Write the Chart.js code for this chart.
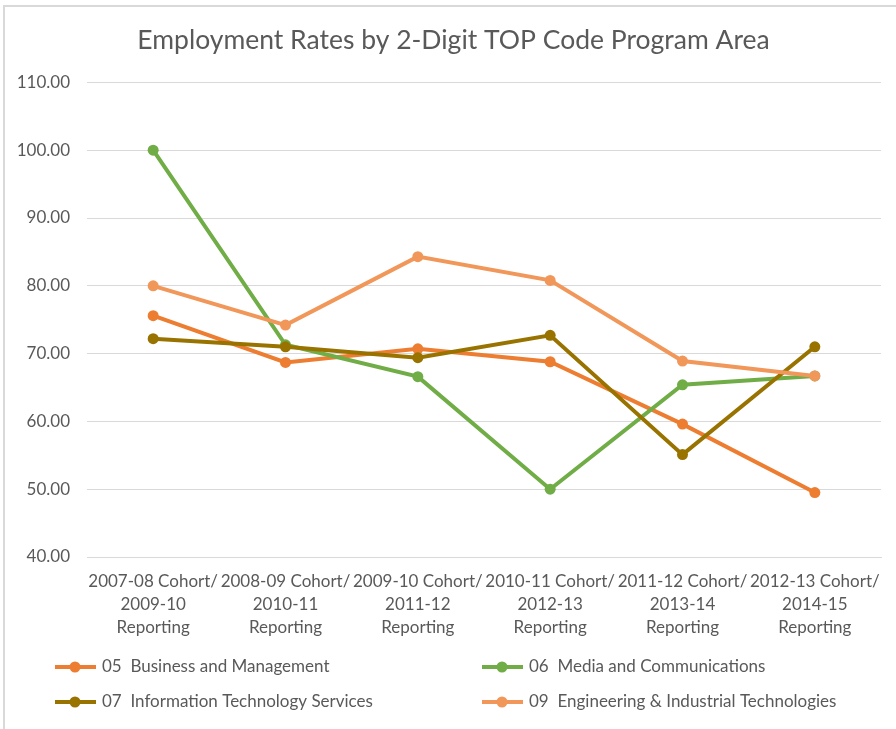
<!DOCTYPE html>
<html>
<head>
<meta charset="utf-8">
<script src="https://cdn.jsdelivr.net/npm/chart.js@4.4.0/dist/chart.umd.min.js"></script>
<style>
  html, body { margin: 0; padding: 0; background: #fff; }
  #wrap { position: absolute; left: 0; top: 0; width: 896px; height: 729px; }
  #bl { position: absolute; left: 3px; top: 5px; width: 2px; height: 724px; background: #d9d9d9; }
  #bt { position: absolute; left: 3px; top: 5px; width: 893px; height: 2px; background: #d9d9d9; }
</style>
</head>
<body>
<div id="wrap"><canvas id="c" width="896" height="729"></canvas></div>
<div id="bl"></div><div id="bt"></div>
<script>
const categories = [
  ["2007-08 Cohort/", "2009-10", "Reporting"],
  ["2008-09 Cohort/", "2010-11", "Reporting"],
  ["2009-10 Cohort/", "2011-12", "Reporting"],
  ["2010-11 Cohort/", "2012-13", "Reporting"],
  ["2011-12 Cohort/", "2013-14", "Reporting"],
  ["2012-13 Cohort/", "2014-15", "Reporting"]
];
const seriesNames = [
  "05  Business and Management",
  "06  Media and Communications",
  "07  Information Technology Services",
  "09  Engineering & Industrial Technologies"
];
const business = [75.6, 68.7, 70.7, 68.8, 59.6, 49.5];
const media = [100.0, 71.3, 66.6, 50.0, 65.4, 66.7];
const infoTech = [72.2, 71.0, 69.4, 72.7, 55.1, 71.0];
const engineering = [80.0, 74.2, 84.3, 80.8, 68.9, 66.7];
const colors = ["#ED7D31", "#70AD47", "#997300", "#F1975A"];
const yMin = 40, yMax = 110, yStep = 10;

const FONT = "Lato, 'Open Sans', sans-serif";
const TXT = "#595959";

function ds(label, data, color, order) {
  return {
    label, data, borderColor: color, backgroundColor: color,
    borderWidth: 4, pointRadius: 5.5, pointHoverRadius: 5.5,
    pointBackgroundColor: color, pointBorderColor: color, pointBorderWidth: 0,
    tension: 0, order
  };
}

const legendPlugin = {
  id: 'customLegend',
  afterLayout(chart) {
    if (chart.titleBlock) { chart.titleBlock.left = 26; }
  },
  afterDraw(chart) {
    const ctx = chart.ctx;
    const pos = [[55, 667], [482, 667], [55, 702], [482, 702]];
    ctx.save();
    ctx.font = "17px " + FONT;
    ctx.textBaseline = "middle";
    chart.data.datasets.forEach((d, i) => {
      const [x, y] = pos[i];
      ctx.strokeStyle = d.borderColor;
      ctx.lineWidth = 4;
      ctx.beginPath(); ctx.moveTo(x, y); ctx.lineTo(x + 41, y); ctx.stroke();
      ctx.fillStyle = d.borderColor;
      ctx.beginPath(); ctx.arc(x + 20, y, 5.5, 0, Math.PI * 2); ctx.fill();
      ctx.fillStyle = TXT;
      ctx.fillText(d.label, x + 47, y);
    });
    ctx.restore();
  }
};

new Chart(document.getElementById('c'), {
  type: 'line',
  data: {
    labels: categories,
    datasets: [
      ds(seriesNames[0], business, colors[0], 3),
      ds(seriesNames[1], media, colors[1], 2),
      ds(seriesNames[2], infoTech, colors[2], 1),
      ds(seriesNames[3], engineering, colors[3], 0)
    ]
  },
  options: {
    responsive: false,
    animation: false,
    layout: { padding: { left: 12, right: 15, top: 25, bottom: 89 } },
    plugins: {
      legend: { display: false },
      tooltip: { enabled: false },
      title: {
        display: true,
        text: "Employment Rates by 2-Digit TOP Code Program Area",
        color: TXT,
        font: { family: FONT, size: 26.5, weight: '400' },
        padding: { top: 0, bottom: 25.6 }
      }
    },
    scales: {
      x: {
        offset: true,
        grid: { display: false, drawTicks: false, offset: true },
        border: { display: true, color: "#d9d9d9", width: 1 },
        ticks: {
          color: TXT, font: { family: FONT, size: 17, lineHeight: 1.35 },
          padding: 13, maxRotation: 0, autoSkip: false
        },
        afterFit(s) { s.height = 83; }
      },
      y: {
        min: yMin, max: yMax,
        grid: { color: "#d9d9d9", lineWidth: 1, drawTicks: false },
        border: { display: false },
        ticks: {
          stepSize: yStep, color: TXT, font: { family: FONT, size: 17 },
          padding: 17,
          callback: v => Number(v).toFixed(2)
        },
        afterFit(s) { s.width = 75; }
      }
    }
  },
  plugins: [legendPlugin]
});
</script>
</body>
</html>
